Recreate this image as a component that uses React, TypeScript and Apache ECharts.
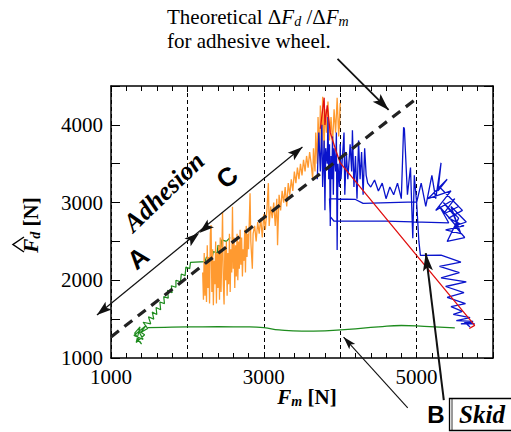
import React, { useEffect, useRef } from "react";
import * as echarts from "echarts";

// axis ticks shown as labels
const xLabelValues = [1000, 3000, 5000];
const yLabelValues = [1000, 2000, 3000, 4000];

// measured traces [Fm, Fd]
const greenTrace = [
  [1340, 1250], [1400, 1180], [1310, 1320], [1380, 1400], [1330, 1200], [1440, 1300], [1360, 1350],
  [1420, 1240], [1300, 1290], [1460, 1420], [1390, 1330], [1480, 1380], [1420, 1460], [1520, 1440],
  [1490, 1530], [1560, 1500], [1540, 1590], [1600, 1560], [1590, 1650], [1650, 1620], [1640, 1720],
  [1700, 1700], [1690, 1790], [1750, 1770], [1740, 1870], [1800, 1840], [1790, 1930], [1850, 1910],
  [1850, 2000], [1910, 1980], [1920, 2080], [1970, 2060], [1980, 2170], [2030, 2150], [2040, 2230],
  [2230, 2240], [2250, 2300], [2320, 2280], [2340, 2370], [2390, 2350], [2400, 2450], [2440, 2430],
  [2450, 2520], [2510, 2500], [2560, 2550],
];

const greenBase = [
  [1480, 1390], [1700, 1395], [2000, 1400], [2400, 1402], [2800, 1400], [3000, 1390], [3200, 1362],
  [3500, 1345], [3800, 1350], [4100, 1368], [4500, 1400], [4800, 1418], [5100, 1408], [5500, 1388],
];

const orangeTrace = [
  [2200, 2100], [2210, 1750], [2220, 2350], [2230, 1800], [2240, 2200], [2250, 1720], [2260, 2450],
  [2270, 1900], [2280, 2300], [2290, 1700], [2300, 2600], [2310, 2710], [2320, 1850], [2330, 2400],
  [2340, 1680], [2350, 2250], [2360, 1950], [2370, 2500], [2380, 1700], [2390, 2350], [2400, 1900],
  [2410, 2450], [2420, 1750], [2430, 2550], [2440, 1850], [2450, 2300], [2460, 2880], [2470, 1950],
  [2480, 1690], [2490, 2400], [2500, 2000], [2510, 2500], [2520, 1800], [2530, 2350], [2540, 1950],
  [2550, 2600], [2560, 1850], [2570, 2400], [2580, 2100], [2590, 2945], [2600, 2150], [2610, 2550],
  [2620, 1900], [2630, 2450], [2640, 2050], [2650, 2600], [2660, 2000], [2670, 2500], [2680, 2150],
  [2690, 2650], [2700, 2200], [2710, 2550], [2720, 2050], [2730, 2400], [2740, 2250], [2750, 2650],
  [2760, 2100], [2770, 2700], [2780, 2300], [2790, 2600], [2800, 2400], [2820, 3120], [2830, 2500],
  [2850, 2150], [2860, 2600], [2880, 2700], [2900, 2500], [2920, 2750], [2940, 2600], [2960, 2800],
  [2980, 2550], [3000, 2850], [3020, 2650], [3040, 2900], [3060, 3250], [3070, 2700], [3090, 2950],
  [3110, 2800], [3130, 3000], [3150, 2700], [3170, 3050], [3180, 2450], [3200, 3100], [3220, 2900],
  [3240, 3150], [3260, 3000], [3280, 3200], [3300, 2950], [3320, 3250], [3340, 3100], [3360, 3300],
  [3380, 3150], [3400, 3400], [3420, 3250], [3440, 3450], [3460, 3300], [3480, 3500], [3500, 3350],
  [3520, 3550], [3540, 3400], [3560, 3600], [3580, 3450], [3600, 3650], [3620, 3500], [3640, 3300],
  [3650, 3700], [3670, 3400], [3680, 3900], [3700, 3500], [3710, 4100], [3730, 3600], [3740, 4250],
  [3760, 3800], [3770, 4360], [3790, 3700], [3800, 4200], [3820, 3900], [3840, 4300], [3860, 3800],
  [3880, 4100], [3900, 3750], [3920, 4200], [3940, 3900], [3960, 4350], [3980, 3850], [4000, 4280],
  [3990, 3950],
];

const blueTrace = [
  [3700, 3300], [3720, 3900], [3740, 3400], [3760, 4000], [3770, 3200], [3790, 3800], [3800, 2900],
  [3810, 3700], [3830, 3500], [3840, 4100], [3850, 3300], [3860, 3750], [3870, 2700], [3880, 3600],
  [3890, 3300], [3900, 3850], [3910, 3100], [3920, 3700], [3940, 3400], [3950, 3900], [3960, 2390],
  [3970, 3500], [3990, 3200], [4000, 3750], [4010, 3300], [4030, 3600], [4050, 3900], [4060, 3100],
  [4080, 3650], [4100, 3300], [4130, 3750], [4150, 3400], [4160, 3930], [4180, 3200], [4200, 3600],
  [4220, 3050], [4240, 3800], [4260, 3300], [4280, 3650], [4300, 3100], [4320, 3700], [4340, 3350],
  [4360, 3250], [4400, 3200], [4450, 3290], [4500, 3150], [4550, 3250], [4600, 3050], [4650, 3200],
  [4700, 3100], [4750, 3250], [4800, 3050], [4830, 3970], [4840, 3950], [4880, 3100], [4920, 3450],
  [4950, 2540], [4970, 3350], [5000, 3000], [5060, 3250], [5120, 2950], [5200, 3350], [5250, 3050],
  [5320, 3510], [5280, 3150], [5400, 3300], [5150, 3050], [5450, 3150], [5250, 2900], [5500, 3050],
  [5350, 2850], [5550, 2950], [5300, 3200], [5600, 2900], [5420, 2800], [5620, 2700], [5380, 2650],
  [5580, 2600], [5450, 2950], [5650, 2750], [5500, 2700], [5630, 2550], [5400, 2500], [5550, 2800],
  [5350, 3000], [5480, 2850], [5560, 2650], [5300, 2950], [5420, 2740], [4600, 2760], [3920, 2760],
  [3870, 2820], [3860, 3050], [4200, 3040], [4300, 2990], [5000, 3010], [5030, 2500], [5050, 2320],
  [5320, 2325], [5580, 2235], [5300, 2180], [5560, 2100], [5320, 2030], [5650, 1980], [5380, 1920],
  [5620, 1840], [5400, 1780], [5640, 1700], [5450, 1660], [5600, 1600], [5480, 1560], [5700, 1520],
  [5520, 1480], [5740, 1470], [5580, 1440], [5760, 1440], [5620, 1470], [5700, 1400],
];

const redTrace = [
  [3740, 3950], [3790, 4350], [3800, 4000], [3830, 4250], [3870, 3900], [3950, 3650], [4000, 3510],
  [5000, 2320], [5760, 1420], [5690, 1380],
];

// theoretical adhesive slope line
const theoryLine = [
  [1000, 1270],
  [5000, 4340],
];

// annotation anchors in data space [Fm, Fd]
const acStart = [816, 1553];
const acMid = [2155, 2609];
const acEnd = [3506, 3716];
const theoryArrow = [[3965, 4848], [4634, 4192]];
const bArrow = [[4884, 357], [4044, 1270]];
const skidArrow = [[5356, 459], [5120, 2351]];

const SERIF = "Liberation Serif";
const SANS = "Liberation Sans";

function head(tip: number[], other: number[], len: number, w: number) {
  const dx = tip[0] - other[0];
  const dy = tip[1] - other[1];
  const l = Math.hypot(dx, dy) || 1;
  const ux = dx / l;
  const uy = dy / l;
  const bx = tip[0] - ux * len;
  const by = tip[1] - uy * len;
  const nx = tip[0] - ux * len * 0.78;
  const ny = tip[1] - uy * len * 0.78;
  const px = -uy;
  const py = ux;
  return {
    type: "polygon",
    z: 100,
    shape: {
      points: [
        [tip[0], tip[1]],
        [bx + px * w / 2, by + py * w / 2],
        [nx, ny],
        [bx - px * w / 2, by - py * w / 2],
      ],
    },
    style: { fill: "#111" },
  };
}

function seg(a: number[], b: number[], lw: number) {
  return {
    type: "line",
    z: 100,
    shape: { x1: a[0], y1: a[1], x2: b[0], y2: b[1] },
    style: { stroke: "#111", lineWidth: lw },
  };
}

const mainTok = (extra: any = {}) => ({ fontFamily: SERIF, fontSize: 21, lineHeight: 22, fill: "#000", ...extra });
const subTok = (extra: any = {}) => ({
  fontFamily: SERIF,
  fontSize: 14,
  lineHeight: 10,
  verticalAlign: "bottom",
  fontStyle: "italic",
  fill: "#000",
  ...extra,
});

export default function App() {
  const ref = useRef<HTMLDivElement>(null);
  useEffect(() => {
    if (!ref.current) return;
    const chart = echarts.init(ref.current, undefined, { renderer: "svg" });
    const lineSeries = (data: number[][], color: string, lw: number, extra: any = {}) => ({
      type: "line",
      data,
      showSymbol: false,
      symbol: "none",
      lineStyle: { color, width: lw },
      xAxisIndex: 0,
      yAxisIndex: 0,
      ...extra,
    });
    chart.setOption({
      animation: false,
      backgroundColor: "#fff",
      grid: { left: 111, right: 18, top: 86, bottom: 74 },
      xAxis: [
        {
          type: "value",
          min: 1000,
          max: 6000,
          interval: 1000,
          axisLine: { show: true, lineStyle: { color: "#000", width: 1.5 } },
          axisTick: { show: true, inside: true, length: 6, lineStyle: { color: "#000" } },
          minorTick: { show: true, splitNumber: 5, length: 5, lineStyle: { color: "#000" } },
          splitLine: { show: true, lineStyle: { color: "#000", type: [4, 3], width: 1 } },
          axisLabel: {
            margin: 8,
            color: "#000",
            fontFamily: SERIF,
            fontSize: 21,
            formatter: (v: number) => (xLabelValues.includes(v) ? String(v) : ""),
          },
        },
        {
          type: "value",
          position: "top",
          min: 1000,
          max: 6000,
          interval: 1000,
          axisLine: { show: true, lineStyle: { color: "#000", width: 1.5 } },
          axisTick: { show: true, inside: true, length: 6, lineStyle: { color: "#000" } },
          minorTick: { show: true, splitNumber: 5, length: 5, lineStyle: { color: "#000" } },
          splitLine: { show: false },
          axisLabel: { show: false },
        },
      ],
      yAxis: [
        {
          type: "value",
          min: 1000,
          max: 4500,
          interval: 500,
          axisLine: { show: true, lineStyle: { color: "#000", width: 1.5 } },
          axisTick: { show: true, inside: true, length: 9, lineStyle: { color: "#000" } },
          splitLine: { show: false },
          axisLabel: {
            margin: 8,
            color: "#000",
            fontFamily: SERIF,
            fontSize: 21,
            formatter: (v: number) => (yLabelValues.includes(v) ? String(v) : ""),
          },
        },
        {
          type: "value",
          position: "right",
          min: 1000,
          max: 4500,
          interval: 500,
          axisLine: { show: true, lineStyle: { color: "#000", width: 1.5 } },
          axisTick: { show: true, inside: true, length: 9, lineStyle: { color: "#000" } },
          splitLine: { show: false },
          axisLabel: { show: false },
        },
      ],
      series: [
        lineSeries(greenBase, "#1e8c1e", 1.3, { smooth: 0.5 }),
        lineSeries(greenTrace, "#1e8c1e", 1.2),
        lineSeries(orangeTrace, "#ff9a30", 1.3),
        lineSeries(blueTrace, "#0a14cc", 1.3),
        lineSeries(redTrace, "#e01010", 1.3),
        lineSeries(theoryLine, "#222", 3.2, { lineStyle: { color: "#222", width: 3.2, type: [10, 7] }, z: 10 }),
      ],
    });

    const P = (p: number[]) => chart.convertToPixel({ gridIndex: 0 }, p) as number[];
    const s = P(acStart);
    const m = P(acMid);
    const e = P(acEnd);
    const t0 = P(theoryArrow[0]);
    const t1 = P(theoryArrow[1]);
    const b0 = P(bArrow[0]);
    const b1 = P(bArrow[1]);
    const k0 = P(skidArrow[0]);
    const k1 = P(skidArrow[1]);

    const graphic: any[] = [
      seg(s, e, 1.2),
      head(s, m, 15, 10),
      head(m, s, 15, 10),
      head(m, e, 15, 10),
      head(e, m, 15, 10),
      seg(t0, t1, 1.8),
      head(t1, t0, 17, 11),
      seg(b0, b1, 1.1),
      head(b1, b0, 13, 8),
      seg(k0, k1, 2),
      head(k1, k0, 18, 10),
      {
        type: "text",
        x: 167,
        y: 17,
        z: 100,
        style: {
          text: "{r|Theoretical Δ}{i|F}{s|d}{r| /Δ}{i|F}{s|m}",
          verticalAlign: "middle",
          fill: "#000",
          rich: {
            r: mainTok(),
            i: mainTok({ fontStyle: "italic" }),
            s: subTok(),
          },
        },
      },
      {
        type: "text",
        x: 167,
        y: 41,
        z: 100,
        style: { text: "for adhesive wheel.", fontFamily: SERIF, fontSize: 21, fill: "#000", verticalAlign: "middle" },
      },
      {
        type: "text",
        x: 164,
        y: 192,
        rotation: 0.77,
        z: 100,
        style: {
          text: "Adhesion",
          fontFamily: SERIF,
          fontSize: 26,
          fontWeight: "bold",
          fontStyle: "italic",
          fill: "#000",
          align: "center",
          verticalAlign: "middle",
        },
      },
      {
        type: "text",
        x: 138,
        y: 258,
        rotation: 0.69,
        z: 100,
        style: { text: "A", fontFamily: SANS, fontSize: 26, fontWeight: "bold", fill: "#000", align: "center", verticalAlign: "middle" },
      },
      {
        type: "text",
        x: 227,
        y: 177,
        rotation: 0.69,
        z: 100,
        style: { text: "C", fontFamily: SANS, fontSize: 26, fontWeight: "bold", fill: "#000", align: "center", verticalAlign: "middle" },
      },
      {
        type: "text",
        x: 436,
        y: 414,
        z: 100,
        style: { text: "B", fontFamily: SANS, fontSize: 24, fontWeight: "bold", fill: "#000", align: "center", verticalAlign: "middle" },
      },
      {
        type: "rect",
        z: 100,
        shape: { x: 449.5, y: 398.5, width: 70, height: 32 },
        style: { fill: "#fff", stroke: "#000", lineWidth: 1.3 },
      },
      {
        type: "line",
        z: 100,
        shape: { x1: 452, y1: 399, x2: 452, y2: 430 },
        style: { stroke: "#000", lineWidth: 0.8 },
      },
      {
        type: "text",
        x: 482,
        y: 414,
        z: 101,
        style: {
          text: "Skid",
          fontFamily: SERIF,
          fontSize: 25,
          fontWeight: "bold",
          fontStyle: "italic",
          fill: "#000",
          align: "center",
          verticalAlign: "middle",
        },
      },
      {
        type: "text",
        x: 307,
        y: 397,
        z: 100,
        style: {
          text: "{f|F}{s|m}{n| [N]}",
          align: "center",
          verticalAlign: "middle",
          rich: {
            f: mainTok({ fontWeight: "bold", fontStyle: "italic" }),
            s: subTok({ fontWeight: "bold" }),
            n: mainTok({ fontWeight: "bold" }),
          },
        },
      },
      {
        type: "text",
        x: 31,
        y: 225,
        rotation: Math.PI / 2,
        z: 100,
        style: {
          text: "{f|F}{s|d}{n| [N]}",
          align: "center",
          verticalAlign: "middle",
          rich: {
            f: mainTok({ fontWeight: "bold", fontStyle: "italic" }),
            s: subTok({ fontWeight: "bold" }),
            n: mainTok({ fontWeight: "bold" }),
          },
        },
      },
      {
        type: "polyline",
        z: 100,
        shape: { points: [[24, 237], [13, 244.5], [24, 252]] },
        style: { stroke: "#000", lineWidth: 1.5, fill: "none" },
      },
    ];
    chart.setOption({ graphic });
    return () => chart.dispose();
  }, []);
  return <div ref={ref} style={{ position: "fixed", left: 0, top: 0, width: 511, height: 432 }} />;
}
